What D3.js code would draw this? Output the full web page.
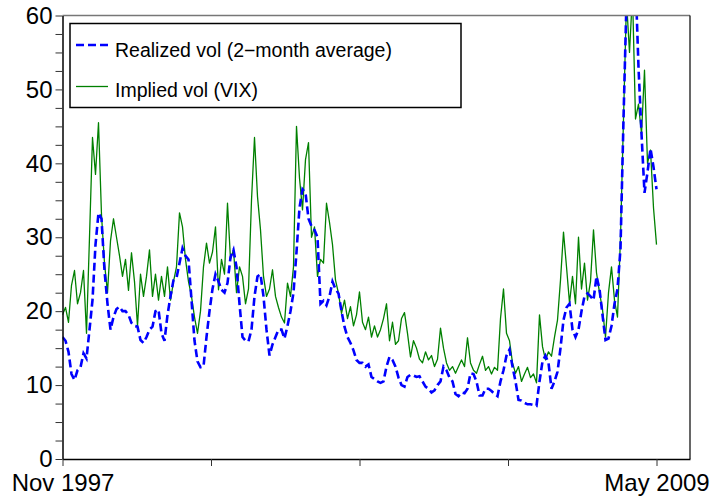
<!DOCTYPE html>
<html><head><meta charset="utf-8">
<script src="https://cdn.jsdelivr.net/npm/d3@7"></script>
<style>body{margin:0;background:#fff}svg{display:block}text{font-family:"Liberation Sans",Arial,sans-serif}</style>
</head><body><svg id="c" width="712" height="497"></svg>
<script>
// Implied vol (VIX), sampled at equal steps from start (Nov 1997) to end (May 2009)
const impliedVol = [
19.5,20.5,18.5,23.5,25.5,21,22.5,25.5,17,30,
43.5,38.5,45.5,33,26.5,22.5,29.5,32.5,30,27.5,
24.7,27,22.8,27.9,24,18,25,22,24.7,28.3,
22,25,21.5,24.7,22,26,21.5,24,26,33.3,
31.4,27,24,22,19.2,17,20,26,29.2,26.5,
28,31.4,22.9,27,25,34.6,27,28.3,22.5,26,
24.7,21,23,35,43.5,35.5,31,24.7,22,23,
25.6,22,20.5,19.2,18.4,23.8,22,26,45,38,
33.7,40.5,42.8,30,31.4,24.7,27,26.5,34.6,32,
29,24.2,22.4,19.7,21.5,19,20.6,18,19.5,22.6,
18.5,17.5,19.2,16.5,18,16.5,17.5,19,21,16,
18.5,15.5,16,19,19.8,17,13.8,16,15,13.5,
13,14.5,13.4,14,12.5,13.5,17.7,15,13,12,
12.5,11.6,12.5,13.4,12.5,16.4,13,12,11.6,12.8,
13.9,12,12.5,11.5,12.4,12,19,23,17,16,
13,11.6,12.5,10.5,11.5,12.4,11,11.5,10.3,19.5,
15.2,13.4,14.5,13.9,16.5,18.8,24.2,30.7,26,21.1,
24.7,21,30,23,26.5,21.5,24,31,25.2,22.5,
20.2,16.5,22.5,26,21.5,19.2,30,46,62,55,
63,46,48,44,52.6,40,41.8,34,29
];
// Realized vol (2-month average)
const realizedVol = [
16.5,16,14.5,11.5,10.7,12,12.4,14.3,13.6,17.5,
21.5,29,33.3,32.5,25.5,21,17.5,19.2,20.3,20.6,
20,20,19.5,18.4,18,17.9,16.1,15.7,16.5,17.5,
17.9,20,20.2,17,16,19.5,22,24.2,24.5,26.5,
28.5,27.5,27,21.5,16,13.2,12.4,12.5,16.5,20,
23,25,24,22.9,22.5,23.8,27.3,28.3,26,21,
16.5,16,15.9,17.5,22,24.7,25,22,17.5,14,
15.5,16.5,17.5,17.5,16.3,18,20,22.5,28,34,
36.5,36,32.5,31.5,31,30,21,21.4,20.8,22,
24,23,22.4,20,17.9,16.5,15.7,14.7,13.4,13,
13,12.5,12.8,11.1,10.8,10.5,10.3,10.5,12.5,13.8,
13.4,12.5,11,10,9.8,11.1,11.4,11.3,11.1,11.2,
10.5,9.8,9.5,9,9.3,10,10.5,12.5,12,11,
10.5,8.8,8.5,9,8.9,9.5,11.6,11.5,10.5,8.6,
8.6,9.5,9.5,9.2,8.8,8.5,10.5,12,14,14.8,
12.5,10.5,8,7.9,7.6,7.4,7.4,7.3,7.2,10.5,
13.2,14,13,9.5,10.5,11.8,15,18.8,20.5,21,
17.5,16.5,17.5,20,22,22.4,22,21.5,24.7,23,
19.5,16.1,16.3,18,21,23,28.5,46,62,70,
72,65,53,44,36,38.8,42,39.5,36.5
];
const xTickPositions = [0, 49.5, 99, 148.5, 198];
const xTickLabels = ["Nov 1997", "", "", "", "May 2009"];
const yTickValues = [0,2.5,5,7.5,10,12.5,15,17.5,20,22.5,25,27.5,30,32.5,35,37.5,40,42.5,45,47.5,50,52.5,55,57.5,60];
const seriesNames = ["Realized vol (2\u2212month average)", "Implied vol (VIX)"];

const L = 62.5, R = 690, T = 15.5, B = 459;
const svg = d3.select("#c");
const x = d3.scaleLinear().domain([0, (R - L) / 3]).range([L, R]);
const y = d3.scaleLinear().domain([0, 60]).range([B, T]);

svg.append("defs").append("clipPath").attr("id", "clip")
  .append("rect").attr("x", L).attr("y", T).attr("width", R - L).attr("height", B - T);

const g = svg.append("g").attr("clip-path", "url(#clip)");
const line = d3.line().x((d, i) => x(i)).y(d => y(d));
g.append("path").datum(impliedVol).attr("d", line)
  .attr("fill", "none").attr("stroke", "#008000").attr("stroke-width", 1.3).attr("stroke-linejoin", "round");
g.append("path").datum(realizedVol).attr("d", line)
  .attr("fill", "none").attr("stroke", "#0000ff").attr("stroke-width", 2.6)
  .attr("stroke-dasharray", "8,4");

// frame top/right
svg.append("line").attr("x1", L).attr("x2", R).attr("y1", T).attr("y2", T).attr("stroke", "#777").attr("stroke-width", 1.5);
svg.append("line").attr("x1", R).attr("x2", R).attr("y1", T).attr("y2", B).attr("stroke", "#000").attr("stroke-width", 1.2);

const yAxis = svg.append("g").attr("transform", `translate(${L},0)`)
  .call(d3.axisLeft(y).tickValues(yTickValues).tickFormat(d => d % 10 === 0 ? d : "").tickSize(7).tickSizeOuter(0).tickPadding(3));
const xAxis = svg.append("g").attr("transform", `translate(0,${B})`)
  .call(d3.axisBottom(x).tickValues(xTickPositions).tickFormat((d, i) => xTickLabels[i]).tickSize(7).tickSizeOuter(0).tickPadding(7.5));
[yAxis, xAxis].forEach(a => {
  a.selectAll("path").attr("stroke", "#000").attr("stroke-width", 1.5);
  a.selectAll("line").attr("stroke", "#333").attr("stroke-width", 1);
  a.selectAll("text").attr("font-size", 24).attr("fill", "#000").attr("font-family", "Liberation Sans, Arial, sans-serif");
});

// legend
const lg = svg.append("g");
lg.append("rect").attr("x", 70).attr("y", 23.5).attr("width", 391).attr("height", 84)
  .attr("fill", "#fff").attr("stroke", "#000").attr("stroke-width", 1.5);
lg.append("line").attr("x1", 76).attr("x2", 108).attr("y1", 45).attr("y2", 45)
  .attr("stroke", "#0000ff").attr("stroke-width", 2.6).attr("stroke-dasharray", "8,4");
lg.append("line").attr("x1", 76).attr("x2", 108).attr("y1", 86.5).attr("y2", 86.5)
  .attr("stroke", "#008000").attr("stroke-width", 1.3);
lg.append("text").attr("x", 115).attr("y", 57.3).attr("font-size", 19.5).text(seriesNames[0]);
lg.append("text").attr("x", 115).attr("y", 97.3).attr("font-size", 19.5).text(seriesNames[1]);
</script></body></html>
